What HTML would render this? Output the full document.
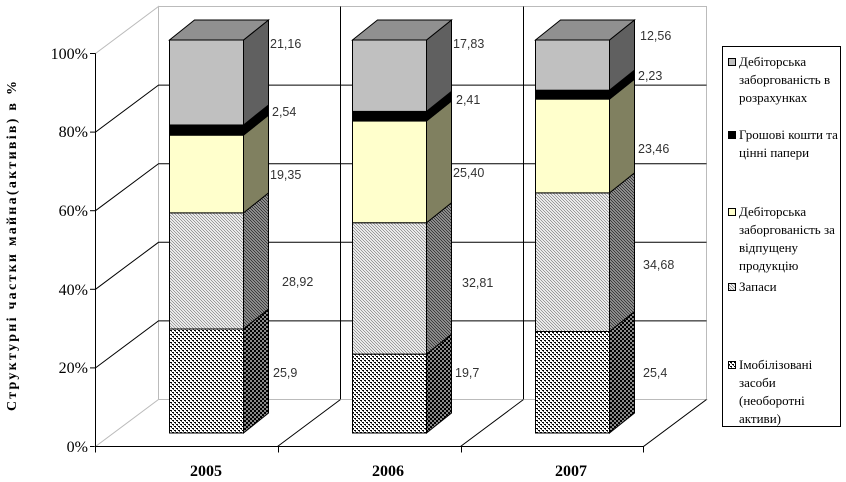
<!DOCTYPE html>
<html><head><meta charset="utf-8"><style>
body{margin:0;background:#fff;}
svg{display:block;}
.t{font-family:"Liberation Serif",serif;font-size:16px;fill:#000;}
.y{font-family:"Liberation Serif",serif;font-weight:bold;font-size:16px;fill:#000;}
.a{font-family:"Liberation Serif",serif;font-weight:bold;font-size:14px;fill:#000;}
.v{font-family:"Liberation Sans",sans-serif;font-size:12.5px;fill:#333;}
.l{font-family:"Liberation Serif",serif;font-size:13px;fill:#000;}
</style></head><body>
<svg id="s" width="846" height="482" viewBox="0 0 846 482" xmlns="http://www.w3.org/2000/svg">
<defs>
<pattern id="dots" width="4" height="4" patternUnits="userSpaceOnUse">
<rect width="4" height="4" fill="#fff"/><rect x="0" y="0" width="2" height="1" fill="#000"/><rect x="2" y="2" width="2" height="1" fill="#000"/><rect x="1" y="1" width="1" height="1" fill="#555"/><rect x="3" y="3" width="1" height="1" fill="#555"/>
</pattern>
<pattern id="dotsD" width="4" height="4" patternUnits="userSpaceOnUse">
<rect width="4" height="4" fill="#888"/><rect x="0" y="0" width="2" height="2" fill="#000"/><rect x="2" y="2" width="2" height="2" fill="#000"/>
</pattern>
<pattern id="hatch" width="3" height="3" patternUnits="userSpaceOnUse">
<rect width="3" height="3" fill="#fff"/><path d="M0,0L3,3M-1,2L1,4M2,-1L4,1" stroke="#888" stroke-width="0.8"/>
</pattern>
<pattern id="hatchD" width="3" height="3" patternUnits="userSpaceOnUse">
<rect width="3" height="3" fill="#aaa"/><path d="M0,0L3,3M-1,2L1,4M2,-1L4,1" stroke="#333" stroke-width="1"/>
</pattern>
</defs>
<g id="grid" stroke="#000" stroke-width="1" fill="none"></g>
<g id="bars"></g>
<text class="t" x="88" y="59" text-anchor="end">100%</text>
<text class="t" x="88" y="137" text-anchor="end">80%</text>
<text class="t" x="88" y="216" text-anchor="end">60%</text>
<text class="t" x="88" y="295" text-anchor="end">40%</text>
<text class="t" x="88" y="373" text-anchor="end">20%</text>
<text class="t" x="88" y="452" text-anchor="end">0%</text>
<text class="y" x="206" y="476" text-anchor="middle">2005</text>
<text class="y" x="388" y="476" text-anchor="middle">2006</text>
<text class="y" x="571" y="476" text-anchor="middle">2007</text>
<text class="a" transform="translate(16,246) rotate(-90)" text-anchor="middle" textLength="330" lengthAdjust="spacing">Структурні частки майна(активів) в %</text>
<g class="v">
<text x="270" y="48">21,16</text><text x="272" y="116">2,54</text><text x="270" y="179">19,35</text><text x="282" y="286">28,92</text><text x="273" y="377">25,9</text>
<text x="453" y="48">17,83</text><text x="456" y="104">2,41</text><text x="453" y="177">25,40</text><text x="462" y="287">32,81</text><text x="455" y="377">19,7</text>
<text x="640" y="40">12,56</text><text x="638" y="80">2,23</text><text x="638" y="153">23,46</text><text x="643" y="269">34,68</text><text x="643" y="377">25,4</text>
</g>
<rect x="722.5" y="46.5" width="118" height="380" fill="#fff" stroke="#000"/>
<g class="l">
<rect x="728.5" y="58.5" width="7" height="7" fill="#c0c0c0" stroke="#000"/>
<text x="739" y="66">Дебіторська</text><text x="739" y="84">заборгованість в</text><text x="739" y="102">розрахунках</text>
<rect x="728.5" y="131.5" width="7" height="7" fill="#000" stroke="#000"/>
<text x="739" y="139">Грошові кошти та</text><text x="739" y="157">цінні папери</text>
<rect x="728.5" y="208.5" width="7" height="7" fill="#ffffcc" stroke="#000"/>
<text x="739" y="216">Дебіторська</text><text x="739" y="234">заборгованість за</text><text x="739" y="252">відпущену</text><text x="739" y="270">продукцію</text>
<rect x="728.5" y="283.5" width="7" height="7" fill="url(#hatch)" stroke="#000"/>
<text x="739" y="291">Запаси</text>
<rect x="728.5" y="361.5" width="7" height="7" fill="url(#dots)" stroke="#000"/>
<text x="739" y="369">Імобілізовані</text><text x="739" y="387">засоби</text><text x="739" y="405">(необоротні</text><text x="739" y="423">активи)</text>
</g>
</svg>
<script>
var NS="http://www.w3.org/2000/svg";
function el(p,n,a){var e=document.createElementNS(NS,n);for(var k in a)e.setAttribute(k,a[k]);p.appendChild(e);return e;}
var g=document.getElementById('grid');
var dy=47;
el(g,'path',{d:'M158.5,6.5L706.5,6.5L706.5,399.5',stroke:'#bbb'});
el(g,'path',{d:'M95.5,53.5L158.5,6.5L158.5,399.5',stroke:'#bbb'});
for(var i=0;i<=5;i++){var yb=399.5-i*78.6,yf=yb+dy;
 if(i>0&&i<5){el(g,'path',{d:'M95.5,'+yf+'L158.5,'+yb+'L706.5,'+yb});}
 el(g,'path',{d:'M90,'+yf+'L95.5,'+yf});}
el(g,'path',{d:'M340.5,6.5L340.5,399.5M523.5,6.5L523.5,399.5',stroke:'#000'});
el(g,'path',{d:'M158.5,399.5L706.5,399.5L643.5,446.5L95.5,446.5Z',stroke:'#bbb'});
el(g,'path',{d:'M95.5,53.5L95.5,446.5L643.5,446.5M340.5,399.5L277.5,446.5M523.5,399.5L460.5,446.5M706.5,399.5L643.5,446.5',stroke:'#000'});
el(g,'path',{d:'M95.5,446.5v6M278.5,446.5v6M461.5,446.5v6M643.5,446.5v6',stroke:'#000'});
var data=[[25.9,28.92,19.35,2.54,21.16],[19.7,32.81,25.40,2.41,17.83],[25.4,34.68,23.46,2.23,12.56]];
var front=['url(#dots)','url(#hatch)','#ffffcc','#000','#c0c0c0'];
var side=['url(#dotsD)','url(#hatchD)','#808060','#000','#606060'];
var bxs=[169,352,535],w=74,ddx=25,ddy=20,bot=433,H=393;
var bg=document.getElementById('bars');
data.forEach(function(d,j){var s=d.reduce(function(a,b){return a+b},0);var y=bot,x=bxs[j]+.5;
 d.forEach(function(v,k){var h=v/s*H,yt=y-h;
  el(bg,'rect',{x:x,y:yt,width:w,height:h,fill:front[k],stroke:'#000','stroke-width':1});
  el(bg,'path',{d:'M'+(x+w)+','+y+'L'+(x+w+ddx)+','+(y-ddy)+'L'+(x+w+ddx)+','+(yt-ddy)+'L'+(x+w)+','+yt+'Z',fill:side[k],stroke:'#000','stroke-width':1});
  y=yt;});
 el(bg,'path',{d:'M'+x+','+y+'L'+(x+ddx)+','+(y-ddy)+'L'+(x+w+ddx)+','+(y-ddy)+'L'+(x+w)+','+y+'Z',fill:'#909090',stroke:'#000'});
});
</script>
</body></html>
